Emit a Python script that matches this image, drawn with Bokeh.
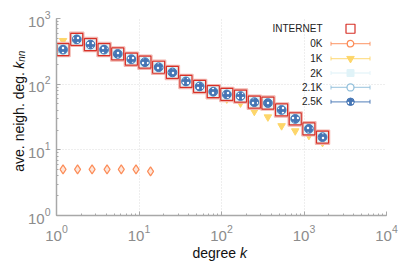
import math
from bokeh.plotting import figure
from bokeh.models import Label
from bokeh.embed import file_html
from bokeh.resources import INLINE

# ---------------- data ----------------
degree = [1.2, 1.76, 2.58, 3.77, 5.52, 8.08, 11.8, 17.3, 25.4, 37.1,
          54.3, 79.5, 116, 170, 250, 365, 535, 783, 1146, 1677]
knn_internet = [336, 481, 401, 336, 289, 240, 216, 181, 151, 110,
                92.5, 76.8, 69.7, 65.9, 53.2, 51.5, 40.5, 29.6, 20.9, 15.6]
knn_1k = [460, 432, 398, 333, 286, 238, 214, 179, 149, 109,
          91, 75, 59.2, 51.5, 38.4, 31.6, 23.2, 19.4, 16.5, 12.9]
knn_2k = [336, 481, 401, 336, 289, 240, 216, 181, 151, 110,
          92.5, 76.8, 69.7, 65.9, 53.2, 51.5, 40.5, 29.6, 20.9, 15.6]
knn_21k = [336, 481, 401, 336, 289, 240, 216, 181, 151, 110,
           92.5, 76.8, 69.7, 65.9, 53.2, 51.5, 40.5, 29.6, 20.9, 15.6]
knn_25k = [336, 481, 401, 336, 289, 240, 216, 181, 151, 110,
           92.5, 76.8, 69.7, 65.9, 53.2, 51.5, 40.5, 29.6, 20.9, 15.6]
degree_0k = [1.2, 1.8, 2.7, 4.1, 6.1, 9.2, 13.8]
knn_0k = [5.03, 5.03, 5.03, 5.03, 5.03, 5.03, 4.71]

series_names = ["INTERNET", "0K", "1K", "2K", "2.1K", "2.5K"]
x_ticks_range = (1, 1e4)
y_ticks_range = (1, 1e3)

C_RED = "#d73027"
C_0K = "#fc8d59"
C_1K = "#fdd66a"
C_2K = "#e0f3f8"
C_21K = "#91bfdb"
C_25K = "#4575b4"
FONT = "Liberation Sans"

# ---------------- geometry ----------------
W, H = 399, 261
BL, BR, BT, BB = 56, 13, 17, 46
FW, FH = W - BL - BR, H - BT - BB
LX0, LX1 = math.log10(x_ticks_range[0]), math.log10(x_ticks_range[1])
LY0, LY1 = math.log10(y_ticks_range[0]), math.log10(y_ticks_range[1])

p = figure(width=W, height=H, x_axis_type="log", y_axis_type="log",
           x_range=x_ticks_range, y_range=y_ticks_range,
           min_border_left=BL, min_border_right=BR,
           min_border_top=BT, min_border_bottom=BB,
           output_backend="svg", toolbar_location=None)
p.outline_line_color = None
p.background_fill_color = "white"

for ax in (p.xaxis, p.yaxis):
    ax.axis_line_color = "#a8a8a8"
    ax.axis_line_width = 1.5
    ax.major_tick_line_color = "#a8a8a8"
    ax.minor_tick_line_color = "#a8a8a8"
    ax.major_tick_in = 4
    ax.major_tick_out = 0
    ax.minor_tick_in = 2
    ax.minor_tick_out = 0
    ax.major_label_text_color = "#8c8c8c"
    ax.major_label_text_font = FONT
    ax.major_label_text_font_size = "15px"
p.xaxis.major_label_standoff = 9
p.yaxis.major_label_standoff = 6

for g in (p.xgrid, p.ygrid):
    g.grid_line_color = "#dcdcdc"
    g.grid_line_dash = "1 2"
    g.grid_line_width = 1

# ---------------- data glyphs ----------------
p.scatter(degree_0k, knn_0k, marker="diamond", size=9, fill_color="#fde6da",
          line_color=C_0K, line_width=1.2)
p.scatter(degree, knn_1k, marker="inverted_triangle", size=7.5, fill_color=C_1K,
          line_color=C_1K)
p.scatter(degree, knn_2k, marker="square", size=14, fill_color=C_2K,
          line_color="#f2b5ae", line_width=1.5)
p.scatter(degree, knn_internet, marker="square", size=12, fill_color=None,
          line_color=C_RED, line_width=1.2)
p.scatter(degree, knn_21k, marker="circle", size=9, fill_color=None,
          line_color=C_21K, line_width=1)
p.scatter(degree, knn_25k, marker="circle", size=8.5, fill_color=C_25K,
          line_color=C_25K, hatch_pattern="dot", hatch_color="white",
          hatch_scale=5, hatch_weight=1.3)

# ---------------- legend (pixel offsets inside the frame -> data) ----------------
def dx(px_from_left):
    return 10 ** (LX0 + px_from_left / FW * (LX1 - LX0))

def dy(px_from_top):
    return 10 ** (LY1 - px_from_top / FH * (LY1 - LY0))

rows = [10.3, 25.3, 40.3, 54.8, 69.3, 83.7]
line_cols = [None, C_0K, C_1K, C_2K, C_21K, C_25K]
TX, L0, L1, LM = FW - 64, FW - 55.5, FW - 16.5, FW - 36
for name, ry, lc in zip(series_names, rows, line_cols):
    p.add_layout(Label(x=dx(TX), y=dy(ry), text=name, text_align="right",
                       text_baseline="middle", text_font=FONT,
                       text_font_size="10px", text_color="#222222"))
    if lc is not None:
        p.line([dx(L0), dx(L1)], [dy(ry), dy(ry)], line_color=lc,
               line_width=1.3, line_alpha=0.75)
        for cx in (L0, L1):
            p.segment(x0=[dx(cx)], y0=[dy(ry - 2)], x1=[dx(cx)], y1=[dy(ry + 2)],
                      line_color=lc, line_width=1.2, line_alpha=0.75)

p.scatter([dx(LM)], [dy(rows[0])], marker="square", size=9, fill_color="white",
          line_color=C_RED, line_width=1.2)
p.scatter([dx(LM)], [dy(rows[1])], marker="circle", size=6.5, fill_color="white",
          line_color=C_0K, line_width=1.3)
p.scatter([dx(LM)], [dy(rows[2])], marker="inverted_triangle", size=7.5,
          fill_color=C_1K, line_color=C_1K)
p.scatter([dx(LM)], [dy(rows[3])], marker="square", size=7, fill_color=C_2K,
          line_color=C_2K)
p.scatter([dx(LM)], [dy(rows[4])], marker="circle", size=7, fill_color="white",
          line_color=C_21K, line_width=1.3)
p.scatter([dx(LM)], [dy(rows[5])], marker="circle", size=7.5, fill_color=C_25K,
          line_color=C_25K, hatch_pattern="dot", hatch_color="white",
          hatch_scale=5, hatch_weight=1.3)

# ---------------- axis titles (side panels, not clipped by the frame) ----------------
def lab(place, x, y, xu, yu, text, size="14px", style="normal", angle=0.0):
    p.add_layout(Label(x=x, y=y, x_units=xu, y_units=yu,
                       text=text, text_font=FONT, text_font_size=size,
                       text_font_style=style, text_align="left",
                       text_baseline="alphabetic", angle=angle,
                       text_color="#111111"), place)

xs = FW / 2 - 29          # start of "degree k" measured from frame left
yl = H - 9                # baseline of x title (canvas px)
lab("below", dx(xs), yl, "data", "canvas", "degree")
lab("right", dx(xs + 47.5), yl, "data", "canvas", "k", style="italic")

ys = FH / 2 + 55          # start of "ave. neigh. deg." measured from frame top
lab("left", 18, dy(ys), "canvas", "data", "ave. neigh. deg.", angle=math.pi / 2)
lab("above", 18, dy(ys - 103.5), "canvas", "data", "k", style="italic",
    angle=math.pi / 2)
lab("above", 21, dy(ys - 110.5), "canvas", "data", "nn", size="10px",
    style="italic", angle=math.pi / 2)

open("out.html", "w").write(file_html(p, INLINE))
